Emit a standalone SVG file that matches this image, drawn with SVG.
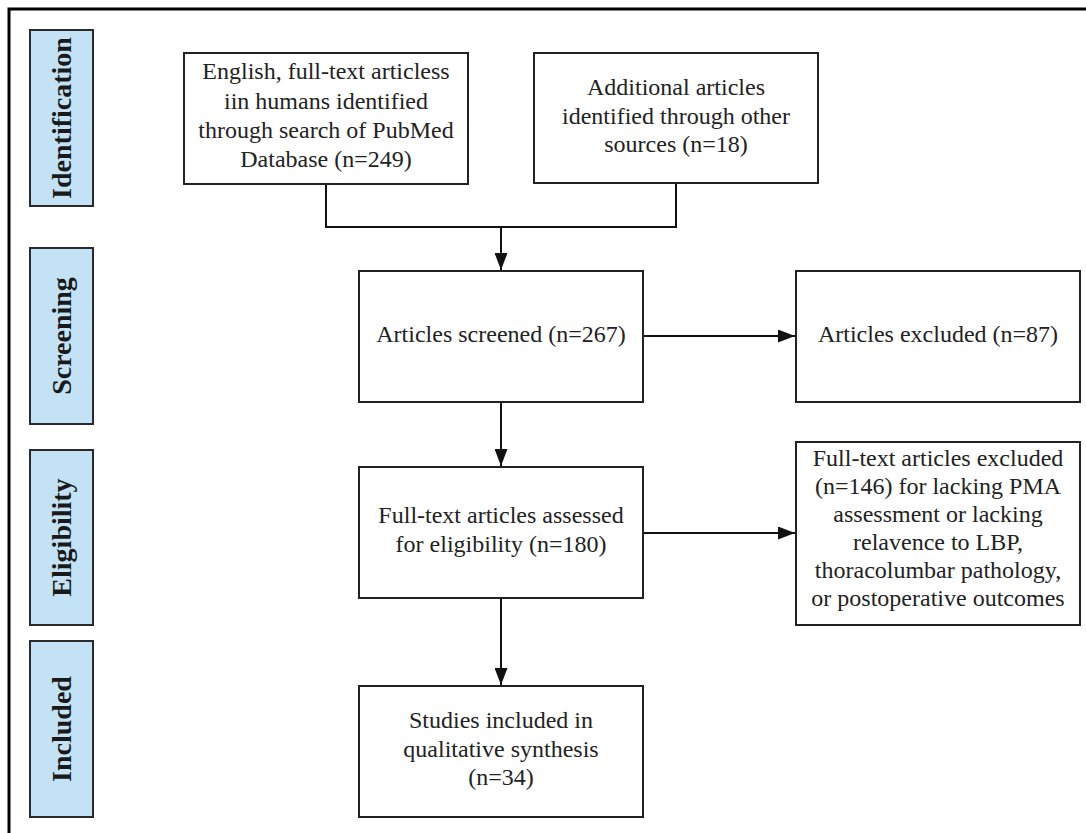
<svg xmlns="http://www.w3.org/2000/svg" width="1086" height="833" viewBox="0 0 1086 833">
<style>
.box{fill:#fff;stroke:#222;stroke-width:2}
.lab{fill:#c3e2f6;stroke:#2a2a2a;stroke-width:2}
.t{font-family:"Liberation Serif","Times New Roman",serif;font-size:24px;fill:#222;text-anchor:middle}
.lt{font-family:"Liberation Serif","Times New Roman",serif;font-size:28px;font-weight:bold;fill:#1a1a1a;text-anchor:middle}
.c{fill:none;stroke:#111;stroke-width:2}
</style>
<defs>
<marker id="ah" markerUnits="userSpaceOnUse" markerWidth="17" markerHeight="13" refX="17" refY="6.5" orient="auto">
<path d="M0,0 L17,6.5 L0,13 z" fill="#111"/>
</marker>
</defs>
<rect x="0" y="0" width="1086" height="833" fill="#fff"/>
<path d="M9,833 V9 H1086" fill="none" stroke="#000" stroke-width="3"/>

<g id="label-identification">
<rect class="lab" x="30" y="30" width="63" height="176"/>
<text class="lt" transform="translate(70.5,118) rotate(-90)">Identification</text>
</g>
<g id="label-screening">
<rect class="lab" x="30" y="248" width="63" height="176"/>
<text class="lt" transform="translate(70.5,336) rotate(-90)">Screening</text>
</g>
<g id="label-eligibility">
<rect class="lab" x="30" y="450" width="63" height="175"/>
<text class="lt" transform="translate(70.5,537.5) rotate(-90)">Eligibility</text>
</g>
<g id="label-included">
<rect class="lab" x="30" y="641" width="63" height="176"/>
<text class="lt" transform="translate(70.5,729) rotate(-90)">Included</text>
</g>

<g id="connectors">
<path class="c" d="M326,184 V227 H676 V183"/>
<path class="c" d="M501,227 V270" marker-end="url(#ah)"/>
<path class="c" d="M643,336 H795" marker-end="url(#ah)"/>
<path class="c" d="M501,402 V466" marker-end="url(#ah)"/>
<path class="c" d="M643,533 H795" marker-end="url(#ah)"/>
<path class="c" d="M501,598 V685" marker-end="url(#ah)"/>
</g>

<g id="node-pubmed">
<rect class="box" x="184" y="53" width="284" height="131"/>
<text class="t" x="326" y="79">English, full-text articless</text>
<text class="t" x="326" y="108.5">iin humans identified</text>
<text class="t" x="326" y="138">through search of PubMed</text>
<text class="t" x="326" y="167">Database (n=249)</text>
</g>
<g id="node-other">
<rect class="box" x="534" y="53" width="284" height="130"/>
<text class="t" x="676" y="95">Additional articles</text>
<text class="t" x="676" y="123.5">identified through other</text>
<text class="t" x="676" y="152">sources (n=18)</text>
</g>
<g id="node-screened">
<rect class="box" x="359" y="271" width="284" height="131"/>
<text class="t" x="501" y="342">Articles screened (n=267)</text>
</g>
<g id="node-excluded">
<rect class="box" x="796" y="271" width="284" height="131"/>
<text class="t" x="938" y="342">Articles excluded (n=87)</text>
</g>
<g id="node-assessed">
<rect class="box" x="359" y="467" width="284" height="131"/>
<text class="t" x="501" y="523">Full-text articles assessed</text>
<text class="t" x="501" y="552">for eligibility (n=180)</text>
</g>
<g id="node-fulltext-excluded">
<rect class="box" x="796" y="442" width="284" height="183"/>
<text class="t" x="938" y="466">Full-text articles excluded</text>
<text class="t" x="938" y="494">(n=146) for lacking PMA</text>
<text class="t" x="938" y="522">assessment or lacking</text>
<text class="t" x="938" y="550">relavence to LBP,</text>
<text class="t" x="938" y="578">thoracolumbar pathology,</text>
<text class="t" x="938" y="606">or postoperative outcomes</text>
</g>
<g id="node-included">
<rect class="box" x="359" y="686" width="284" height="131"/>
<text class="t" x="501" y="728">Studies included in</text>
<text class="t" x="501" y="757">qualitative synthesis</text>
<text class="t" x="501" y="785">(n=34)</text>
</g>
</svg>
